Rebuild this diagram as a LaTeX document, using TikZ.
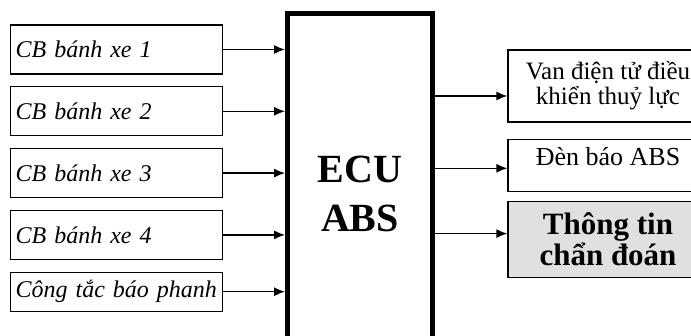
\documentclass[tikz,border=0pt]{standalone}
\usepackage{fontspec}
\setmainfont{Liberation Serif}
\usetikzlibrary{positioning,arrows.meta}

\begin{document}
\begin{tikzpicture}[x=1pt,y=1pt]
    \tikzstyle{sensor} = [rectangle,draw,line width=1.3pt,anchor=west,minimum width=212pt,minimum height=49pt,inner xsep=5pt,text width=202pt,align=left,font=\fontsize{24}{28}\selectfont\itshape,node distance=11.5pt]
    \tikzstyle{ecubox} = [rectangle,draw,line width=5pt,minimum width=145pt,minimum height=361pt,align=center,font=\fontsize{40}{49}\selectfont\bfseries]
    \tikzstyle{actuator} = [rectangle,draw,line width=1.3pt,minimum width=200pt,align=center,font=\fontsize{26}{25}\selectfont]
    \tikzstyle{wire} = [->,line width=1.3pt]
    \tikzset{>={Latex[length=11pt,width=9pt]}}

    \useasboundingbox (0,0) rectangle (691,-336);

    % inputs
    \node [sensor] (cb1) at (10,-49.5) {CB bánh xe 1};
    \node [sensor, below=of cb1.south west, anchor=north west] (cb2) {CB bánh xe 2};
    \node [sensor, below=of cb2.south west, anchor=north west] (cb3) {CB bánh xe 3};
    \node [sensor, below=of cb3.south west, anchor=north west] (cb4) {CB bánh xe 4};
    \node [sensor, below=of cb4.south west, anchor=north west, minimum height=39pt] (phanh) {Công tắc báo phanh};

    % controller
    \node [ecubox] (ecu) at (360,-194) {ECU\\ABS};

    % outputs
    \node [actuator, minimum height=72pt, font=\fontsize{25}{25}\selectfont] (van) at (608,-86) {Van điện tử điều\\khiển thuỷ lực};
    \node [actuator, minimum height=52pt, text depth=17pt, below=16pt of van] (den) {Đèn báo ABS};
    \node [actuator, minimum height=76pt, below=9pt of den, fill=black!12, font=\fontsize{31}{31}\selectfont\bfseries] (chandoan) {Thông tin\\chẩn đoán};

    \foreach \n in {cb1,cb2,cb3,cb4,phanh}
      \draw [wire] (\n.east) -- (\n.east -| ecu.west);

    \draw [wire] ([yshift=-10pt]van.west -| ecu.east) -- ([yshift=-10pt]van.west);
    \draw [wire] ([yshift=-3pt]den.west -| ecu.east) -- ([yshift=-3pt]den.west);
    \draw [wire] ([yshift=6pt]chandoan.west -| ecu.east) -- ([yshift=6pt]chandoan.west);
\end{tikzpicture}
\end{document}
